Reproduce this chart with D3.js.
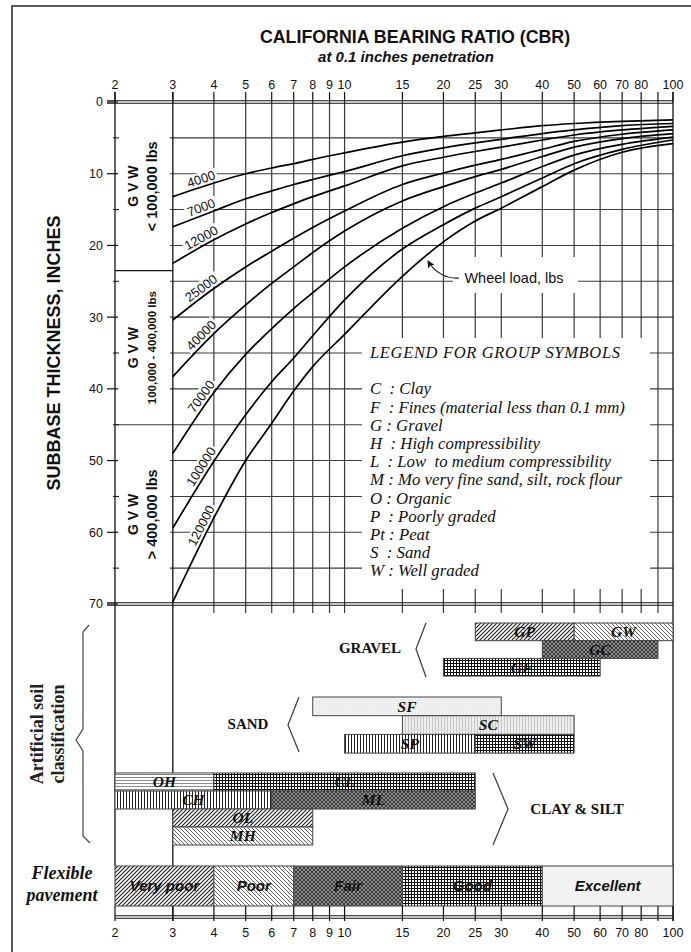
<!DOCTYPE html>
<html><head><meta charset="utf-8">
<script src="https://cdn.jsdelivr.net/npm/d3@7"></script>
<style>
html,body{margin:0;padding:0;background:#fff;}
svg{display:block;}
</style></head>
<body>
<svg id="chart" width="691" height="952"></svg>
<script>
// ---------------- DATA ----------------
const cbrTicks = [2,3,4,5,6,7,8,9,10,15,20,25,30,40,50,60,70,80,90,100];
const cbrTickLabels = ["2","3","4","5","6","7","8","9","10","15","20","25","30","40","50","60","70","80","","100"];
const thicknessTicks = [0,10,20,30,40,50,60,70];
const thicknessGrid = [5,10,15,20,25,30,35,40,45,50,55,60,65];

const cbrPoints = [3,4,5,6,7,8,10,15,20,25,30,40,50,70,100];
const wheelLoads = [4000,7000,12000,25000,40000,70000,100000,120000];
const t4000   = [13.2,11.3,10.0, 9.2, 8.6, 8.0, 7.1, 5.6, 4.8, 4.3, 3.9, 3.3, 3.0, 2.7, 2.5];
const t7000   = [17.4,15.2,13.5,12.4,11.5,10.8, 9.7, 7.5, 6.4, 5.7, 5.2, 4.4, 3.9, 3.3, 3.0];
const t12000  = [22.5,19.2,17.0,15.4,14.2,13.2,11.7, 8.9, 7.7, 6.9, 6.3, 5.3, 4.6, 3.9, 3.4];
const t25000  = [30.4,26.0,23.0,20.8,19.0,17.5,15.2,11.5, 9.9, 8.8, 8.0, 6.6, 5.5, 4.5, 3.9];
const t40000  = [38.3,32.3,28.3,25.3,23.0,21.0,18.0,13.8,11.8,10.4, 9.4, 7.6, 6.3, 5.1, 4.4];
const t70000  = [49.0,40.5,35.2,31.6,28.8,26.6,23.0,17.6,14.6,12.7,11.3, 9.0, 7.4, 5.9, 4.9];
const t100000 = [59.4,50.1,43.6,39.0,35.7,32.6,27.6,20.5,17.1,14.8,13.2,10.6, 8.6, 6.6, 5.3];
const t120000 = [69.7,58.0,50.0,44.8,40.3,36.9,32.4,24.3,19.5,16.6,14.8,11.8, 9.5, 7.0, 5.8];
const thicknessSeries = [t4000,t7000,t12000,t25000,t40000,t70000,t100000,t120000];

const gvwBounds = [0,23.5,45,70];
const gvwTitle = ["G V W","G V W","G V W"];
const gvwRange = ["< 100,000 lbs","100,000 - 400,000 lbs","> 400,000 lbs"];

const legendTitle = "LEGEND FOR GROUP SYMBOLS";
const legendLines = [
  "C  : Clay",
  "F  : Fines (material less than 0.1 mm)",
  "G : Gravel",
  "H  : High compressibility",
  "L  : Low  to medium compressibility",
  "M : Mo very fine sand, silt, rock flour",
  "O : Organic",
  "P  : Poorly graded",
  "Pt : Peat",
  "S  : Sand",
  "W : Well graded"
];

const soilCodes = ["GP","GW","GC","GF","SF","SC","SP","SW","OH","CL","CH","ML","OL","MH"];
const soilFrom  = [25, 50, 40, 20,  8, 15, 10, 25, 2, 4, 2, 6, 3, 3];
const soilTo    = [50,100, 90, 60, 30, 50, 25, 50, 4,25, 6,25, 8, 8];
const soilGroup = ["gravel","gravel","gravel","gravel","sand","sand","sand","sand","clay","clay","clay","clay","clay","clay"];
const soilRow   = [0,0,1,2, 0,1,2,2, 0,0,1,1,2,3];
const groupNames = ["GRAVEL","SAND","CLAY & SILT"];

const pavementRatings = ["Very poor","Poor","Fair","Good","Excellent"];
const pavementBounds  = [2,4,7,15,40,100];

// ---------------- LAYOUT / STYLE ----------------
const svg = d3.select("#chart");
const X0 = 115, X1 = 673, Y0 = 102, Y1 = 604;
const x = d3.scaleLog().domain([2,100]).range([X0,X1]);
const y = d3.scaleLinear().domain([0,70]).range([Y0,Y1]);
const SANS = "'Liberation Sans', Arial, sans-serif";
const SERIF = "'Liberation Serif', 'Times New Roman', serif";
const GRID = "#3a3a3a";

const defs = svg.append("defs");
function pat(id,size,bg,path,stroke,sw){
  const p = defs.append("pattern").attr("id",id).attr("patternUnits","userSpaceOnUse")
    .attr("width",size).attr("height",size);
  p.append("rect").attr("width",size).attr("height",size).attr("fill",bg);
  if(path) p.append("path").attr("d",path).attr("stroke",stroke).attr("stroke-width",sw).attr("fill","none");
}
pat("diagF",4,"#fff","M-1,1 L1,-1 M0,4 L4,0 M3,5 L5,3","#222",1.15);
pat("diagB",4,"#fff","M-1,3 L1,5 M0,0 L4,4 M3,-1 L5,1","#555",0.9);
pat("cross",4,"#8e8e8e","M-1,1 L1,-1 M0,4 L4,0 M3,5 L5,3 M-1,3 L1,5 M0,0 L4,4 M3,-1 L5,1","#222",0.8);
pat("grid",3,"#fff","M0,0.5 H3 M0.5,0 V3","#111",1);
pat("vert",3,"#fff","M0.5,0 V3","#222",1);
pat("vertLight",3,"#ececec","M0.5,0 V3","#bdbdbd",0.8);
pat("horiz",3,"#fff","M0,0.5 H3","#8a8a8a",1);
pat("dots",3,"#f0f0f0","M1,1 h0.7","#cfcfcf",0.7);
const fillFor = {GP:"diagF",GW:"diagB",GC:"cross",GF:"grid",SF:"dots",SC:"vertLight",SP:"vert",SW:"grid",
                 OH:"horiz",CL:"grid",CH:"vert",ML:"cross",OL:"diagF",MH:"diagB"};
const paveFill = ["url(#diagF)","url(#diagB)","url(#cross)","url(#grid)","#f2f2f2"];

const groupTop  = {gravel:623, sand:697, clay:773};
const groupRowH = {gravel:17.7, sand:18.7, clay:18};

defs.append("marker").attr("id","arr").attr("viewBox","0 0 8 8").attr("refX",7).attr("refY",4)
  .attr("markerWidth",7).attr("markerHeight",7).attr("orient","auto")
  .append("path").attr("d","M0,0 L8,4 L0,8 L2,4 Z").attr("fill","#111");

// frame
svg.append("rect").attr("x",12).attr("y",6).attr("width",700).attr("height",1000)
  .attr("fill","none").attr("stroke","#333").attr("stroke-width",1.6);

// titles
svg.append("text").attr("x",415).attr("y",43).attr("text-anchor","middle")
  .style("font-family",SANS).style("font-weight","bold").style("font-size","17.8px").attr("fill","#111")
  .text("CALIFORNIA BEARING RATIO (CBR)");
svg.append("text").attr("x",406).attr("y",62).attr("text-anchor","middle")
  .style("font-family",SANS).style("font-weight","bold").style("font-style","italic").style("font-size","15px").attr("fill","#111")
  .text("at 0.1 inches penetration");

// top axis labels & ticks
svg.append("g").selectAll("text").data(cbrTicks).join("text")
  .attr("x",d=>x(d)).attr("y",89).attr("text-anchor","middle")
  .style("font-family",SANS).style("font-size","12.5px").attr("fill","#111")
  .text((d,i)=>cbrTickLabels[i]);
svg.append("g").selectAll("line").data(cbrTicks).join("line")
  .attr("x1",d=>x(d)).attr("x2",d=>x(d)).attr("y1",92).attr("y2",Y0)
  .attr("stroke","#111").attr("stroke-width",1.2);

// horizontal gridlines
svg.append("g").selectAll("line").data(thicknessGrid).join("line")
  .attr("x1",d=>d===45?X0:170).attr("x2",X1).attr("y1",d=>y(d)).attr("y2",d=>y(d))
  .attr("stroke",GRID).attr("stroke-width",1.1);
// vertical gridlines in curve area
svg.append("g").selectAll("line").data(cbrTicks.filter(d=>d>3&&d<100)).join("line")
  .attr("x1",d=>x(d)).attr("x2",d=>x(d)).attr("y1",Y0).attr("y2",Y1+9)
  .attr("stroke",GRID).attr("stroke-width",1.2);
// long verticals: 2, 3, 100
svg.append("line").attr("x1",x(2)).attr("x2",x(2)).attr("y1",92).attr("y2",866).attr("stroke","#111").attr("stroke-width",1.3);
svg.append("line").attr("x1",x(3)).attr("x2",x(3)).attr("y1",92).attr("y2",921).attr("stroke","#111").attr("stroke-width",1.3);
svg.append("line").attr("x1",x(100)).attr("x2",x(100)).attr("y1",92).attr("y2",921).attr("stroke","#111").attr("stroke-width",1.3);

// white boxes (legend, wheel load label)
svg.append("rect").attr("x",362).attr("y",338).attr("width",288).attr("height",251).attr("fill","#fff");
svg.append("rect").attr("x",453).attr("y",257).attr("width",125).attr("height",36).attr("fill","#fff");

// double lines at 0 and 70
[0,70].forEach(v=>{
  [-1.2,1.2].forEach(o=>{
    svg.append("line").attr("x1",107).attr("x2",X1).attr("y1",y(v)+o).attr("y2",y(v)+o)
      .attr("stroke","#111").attr("stroke-width",1.1);
  });
});

// left axis ticks and labels
svg.append("g").selectAll("line").data(thicknessTicks).join("line")
  .attr("x1",107).attr("x2",118).attr("y1",d=>y(d)).attr("y2",d=>y(d)).attr("stroke","#111").attr("stroke-width",1.2);
svg.append("g").selectAll("line").data(thicknessGrid.filter(d=>d%10!==0)).join("line")
  .attr("x1",113).attr("x2",119).attr("y1",d=>y(d)).attr("y2",d=>y(d)).attr("stroke","#111").attr("stroke-width",1);
svg.append("g").selectAll("text").data(thicknessTicks).join("text")
  .attr("x",103).attr("y",d=>y(d)).attr("dy","0.35em").attr("text-anchor","end")
  .style("font-family",SANS).style("font-size","12.5px").attr("fill","#111").text(d=>d);
svg.append("text").attr("transform","translate(54,353) rotate(-90)").attr("text-anchor","middle").attr("dy","0.35em")
  .style("font-family",SANS).style("font-weight","bold").style("font-size","18px").attr("fill","#111")
  .text("SUBBASE THICKNESS, INCHES");

// GVW column
svg.append("line").attr("x1",X0).attr("x2",x(3)).attr("y1",y(gvwBounds[1])).attr("y2",y(gvwBounds[1]))
  .attr("stroke","#111").attr("stroke-width",1.2);
gvwTitle.forEach((t,i)=>{
  const cy=(y(gvwBounds[i])+y(gvwBounds[i+1]))/2;
  svg.append("text").attr("transform",`translate(133,${cy}) rotate(-90)`).attr("text-anchor","middle").attr("dy","0.35em")
    .style("font-family",SANS).style("font-weight","bold").style("font-size","14px").attr("fill","#111").text(t);
  svg.append("text").attr("transform",`translate(152,${cy}) rotate(-90)`).attr("text-anchor","middle").attr("dy","0.35em")
    .style("font-family",SANS).style("font-weight","bold").style("font-size",i===1?"11.5px":"14.5px").attr("fill","#111").text(gvwRange[i]);
});

// curves
const line = d3.line().x(d=>x(d[0])).y(d=>y(d[1])).curve(d3.curveMonotoneX);
const bgG = svg.append("g");
const curveG = svg.append("g");
const labG = svg.append("g");
thicknessSeries.forEach((ser,k)=>{
  const pts = cbrPoints.map((c,i)=>[c,ser[i]]);
  const path = curveG.append("path").attr("d",line(pts)).attr("fill","none")
    .attr("stroke","#000").attr("stroke-width",1.7);
  const node = path.node(), L = node.getTotalLength();
  function atX(px){ let lo=0,hi=L; for(let j=0;j<40;j++){const m=(lo+hi)/2; if(node.getPointAtLength(m).x<px) lo=m; else hi=m;} return lo; }
  let px = 205, len, th;
  for(let it=0;it<4;it++){
    len = atX(px);
    const a=node.getPointAtLength(Math.max(0,len-4)), b=node.getPointAtLength(len+4);
    th = Math.atan2(b.y-a.y,b.x-a.x);
    px = 201 - 8*Math.sin(th);
  }
  const p = node.getPointAtLength(len);
  const cx = p.x + 8*Math.sin(th), cy = p.y - 8*Math.cos(th);
  const deg = th*180/Math.PI;
  const g = labG.append("g").attr("transform",`translate(${cx},${cy}) rotate(${deg})`);
  const tx = g.append("text").attr("text-anchor","middle").attr("dy","0.36em")
    .style("font-family",SANS).style("font-size","13px").attr("fill","#111").text(wheelLoads[k]);
  const w = tx.node().getComputedTextLength();
  bgG.append("rect").attr("transform",`translate(${cx},${cy}) rotate(${deg})`)
    .attr("x",-w/2-2).attr("y",-6.5).attr("width",w+4).attr("height",13).attr("fill","#fff");
});

// wheel load annotation
svg.append("text").attr("x",514).attr("y",278).attr("dy","0.35em").attr("text-anchor","middle")
  .style("font-family",SANS).style("font-size","14.5px").attr("fill","#111").text("Wheel load, lbs");
svg.append("path").attr("d","M459,278 C447,279 435,273 428,261").attr("fill","none")
  .attr("stroke","#111").attr("stroke-width",1.1).attr("marker-end","url(#arr)");

// legend
svg.append("text").attr("x",370).attr("y",352).attr("dy","0.35em").attr("textLength",250)
  .style("font-family",SERIF).style("font-style","italic").style("font-size","16.5px").attr("fill","#111").text(legendTitle);
svg.append("g").selectAll("text").data(legendLines).join("text")
  .attr("x",370).attr("y",(d,i)=>388.5+i*18.2).attr("dy","0.35em").style("white-space","pre")
  .style("font-family",SERIF).style("font-style","italic").style("font-size","16.8px").attr("fill","#111").text(d=>d);

// ---------- soil classification ----------
svg.append("path").attr("d","M89,625 L83,632 L83,729 L76,740 L83,751 L83,836 L90,843")
  .attr("fill","none").attr("stroke","#444").attr("stroke-width",1.2);
svg.append("text").attr("transform","translate(37,734) rotate(-90)").attr("text-anchor","middle").attr("dy","0.35em")
  .style("font-family",SERIF).style("font-weight","bold").style("font-size","18px").attr("fill","#222").text("Artificial soil");
svg.append("text").attr("transform","translate(58,734) rotate(-90)").attr("text-anchor","middle").attr("dy","0.35em")
  .style("font-family",SERIF).style("font-weight","bold").style("font-size","18px").attr("fill","#222").text("classification");

const brackets = ["M426,623 L416,649 L426,677","M299,697 L288,725 L299,752","M493,773 L508,809 L493,845"];
const namePos = [[370,648],[248,724],[577,809]];
groupNames.forEach((n,i)=>{
  svg.append("path").attr("d",brackets[i]).attr("fill","none").attr("stroke","#444").attr("stroke-width",1.3);
  svg.append("text").attr("x",namePos[i][0]).attr("y",namePos[i][1]).attr("dy","0.35em").attr("text-anchor","middle")
    .style("font-family",SERIF).style("font-weight","bold").style("font-size","15px").attr("fill","#111").text(n);
});

soilCodes.forEach((c,i)=>{
  const g = soilGroup[i], h = groupRowH[g];
  const y0 = groupTop[g] + soilRow[i]*h;
  const x0 = x(soilFrom[i]), x1 = x(soilTo[i]);
  svg.append("rect").attr("x",x0).attr("y",y0).attr("width",x1-x0).attr("height",h)
    .attr("fill",`url(#${fillFor[c]})`).attr("stroke","#444").attr("stroke-width",1);
  svg.append("text").attr("x",(x0+x1)/2).attr("y",y0+h/2).attr("dy","0.35em").attr("text-anchor","middle")
    .style("font-family",SERIF).style("font-weight","bold").style("font-style","italic").style("font-size","15.5px")
    .attr("fill","#111").text(c);
});

// ---------- flexible pavement ----------
const PY0 = 866, PY1 = 906, AX = 917;
pavementRatings.forEach((r,i)=>{
  const x0=x(pavementBounds[i]), x1=x(pavementBounds[i+1]);
  svg.append("rect").attr("x",x0).attr("y",PY0).attr("width",x1-x0).attr("height",PY1-PY0)
    .attr("fill",paveFill[i]).attr("stroke","#444").attr("stroke-width",1);
  svg.append("text").attr("x",(x0+x1)/2).attr("y",(PY0+PY1)/2).attr("dy","0.35em").attr("text-anchor","middle")
    .style("font-family",SANS).style("font-weight","bold").style("font-style","italic").style("font-size","15px")
    .attr("fill","#111").text(r);
});
svg.append("text").attr("x",62).attr("y",879).attr("text-anchor","middle")
  .style("font-family",SERIF).style("font-weight","bold").style("font-style","italic").style("font-size","18px").attr("fill","#111").text("Flexible");
svg.append("text").attr("x",62).attr("y",901).attr("text-anchor","middle")
  .style("font-family",SERIF).style("font-weight","bold").style("font-style","italic").style("font-size","18px").attr("fill","#111").text("pavement");

svg.append("g").selectAll("line").data(cbrTicks).join("line")
  .attr("x1",d=>x(d)).attr("x2",d=>x(d)).attr("y1",PY1).attr("y2",AX+4).attr("stroke","#111").attr("stroke-width",1.2);
[-1.2,1.2].forEach(o=>{
  svg.append("line").attr("x1",X0).attr("x2",X1).attr("y1",AX+o).attr("y2",AX+o).attr("stroke","#111").attr("stroke-width",1.1);
});
svg.append("g").selectAll("text").data(cbrTicks).join("text")
  .attr("x",d=>x(d)).attr("y",937).attr("text-anchor","middle")
  .style("font-family",SANS).style("font-size","12.5px").attr("fill","#111")
  .text((d,i)=>cbrTickLabels[i]);
</script>
</body></html>
